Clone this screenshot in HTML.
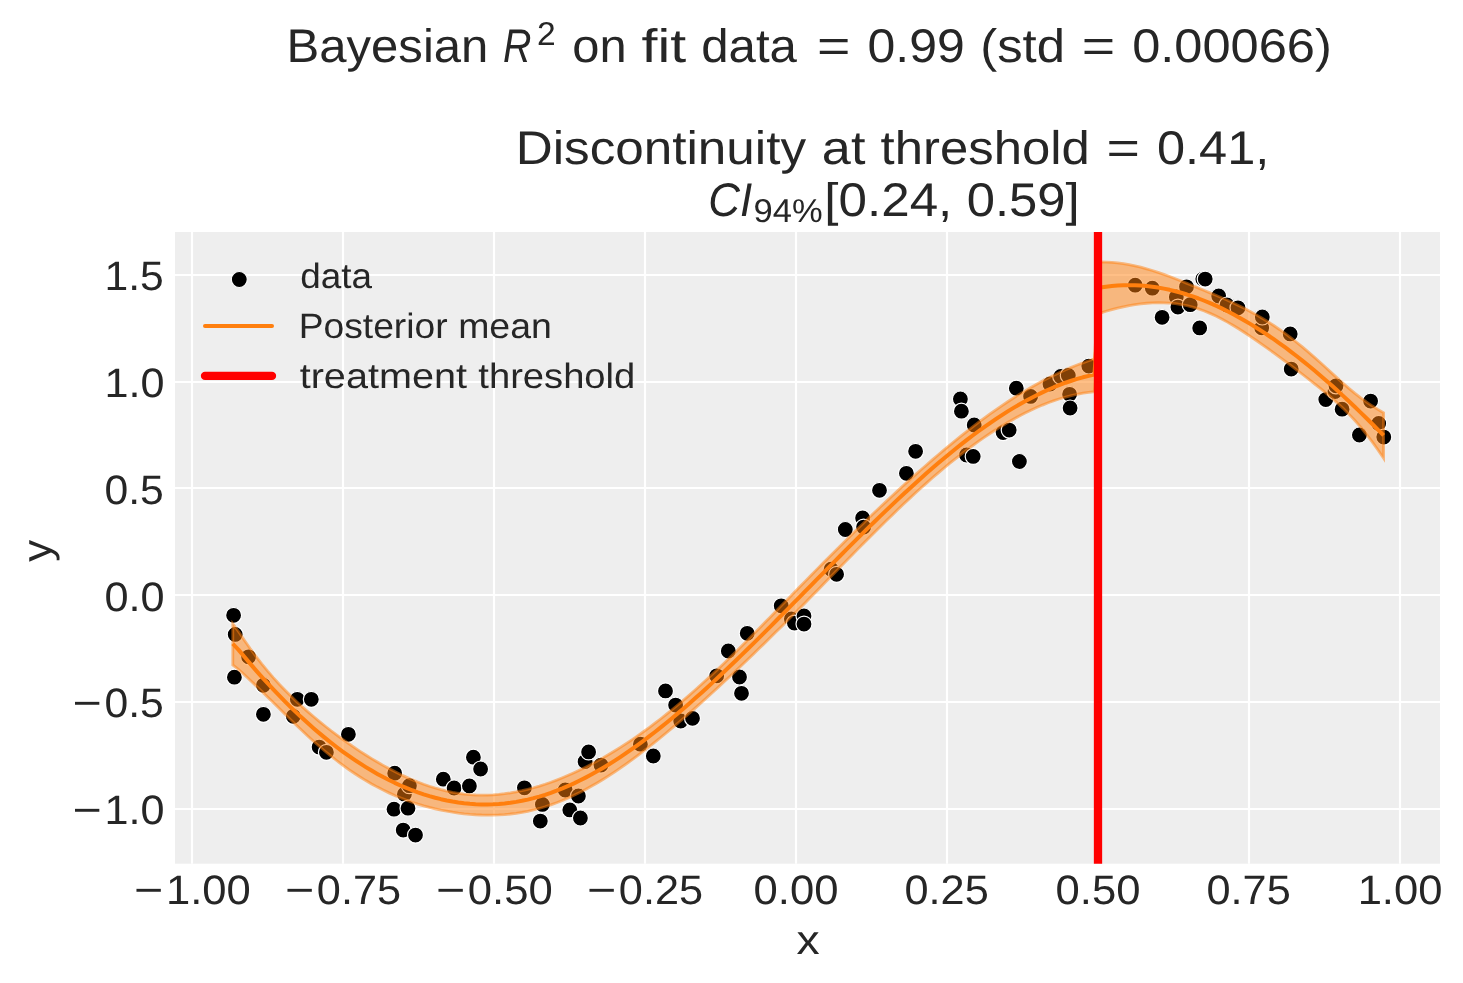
<!DOCTYPE html>
<html><head><meta charset="utf-8"><style>
html,body{margin:0;padding:0;background:#fff;overflow:hidden}
svg{display:block}
text{text-rendering:geometricPrecision}
svg{will-change:transform}
</style></head><body>
<svg width="1463" height="983" viewBox="0 0 1463 983">
<rect width="1463" height="983" fill="#fff"/>
<rect x="175" y="232" width="1265" height="631.7" fill="#eeeeee"/>
<g stroke="#fff" stroke-width="2.2">
<line x1="192.0" y1="232" x2="192.0" y2="863.7"/>
<line x1="343.0" y1="232" x2="343.0" y2="863.7"/>
<line x1="494.0" y1="232" x2="494.0" y2="863.7"/>
<line x1="645.0" y1="232" x2="645.0" y2="863.7"/>
<line x1="796.0" y1="232" x2="796.0" y2="863.7"/>
<line x1="947.0" y1="232" x2="947.0" y2="863.7"/>
<line x1="1098.0" y1="232" x2="1098.0" y2="863.7"/>
<line x1="1249.0" y1="232" x2="1249.0" y2="863.7"/>
<line x1="1400.0" y1="232" x2="1400.0" y2="863.7"/>
<line x1="175" y1="809.00" x2="1440" y2="809.00"/>
<line x1="175" y1="702.00" x2="1440" y2="702.00"/>
<line x1="175" y1="595.00" x2="1440" y2="595.00"/>
<line x1="175" y1="488.00" x2="1440" y2="488.00"/>
<line x1="175" y1="382.00" x2="1440" y2="382.00"/>
<line x1="175" y1="275.00" x2="1440" y2="275.00"/>
</g>
<g fill="#000" stroke="#fff" stroke-width="1.2">
<circle cx="233.6" cy="615.3" r="8"/>
<circle cx="234.4" cy="677.2" r="8"/>
<circle cx="235.2" cy="634.4" r="8"/>
<circle cx="248.6" cy="656.8" r="8"/>
<circle cx="263.4" cy="685.3" r="8"/>
<circle cx="263.4" cy="714.3" r="8"/>
<circle cx="293.3" cy="716.3" r="8"/>
<circle cx="297.3" cy="699.3" r="8"/>
<circle cx="311.3" cy="699.3" r="8"/>
<circle cx="319.1" cy="747.1" r="8"/>
<circle cx="326.4" cy="752.3" r="8"/>
<circle cx="348.4" cy="734.3" r="8"/>
<circle cx="394.0" cy="809.2" r="8"/>
<circle cx="394.7" cy="773.2" r="8"/>
<circle cx="403.2" cy="830.1" r="8"/>
<circle cx="404.4" cy="794.2" r="8"/>
<circle cx="408.0" cy="808.2" r="8"/>
<circle cx="409.4" cy="785.7" r="8"/>
<circle cx="415.5" cy="835.1" r="8"/>
<circle cx="443.3" cy="779.2" r="8"/>
<circle cx="454.1" cy="788.0" r="8"/>
<circle cx="469.4" cy="785.9" r="8"/>
<circle cx="473.4" cy="757.2" r="8"/>
<circle cx="480.6" cy="769.0" r="8"/>
<circle cx="524.4" cy="787.8" r="8"/>
<circle cx="540.3" cy="821.1" r="8"/>
<circle cx="542.4" cy="804.4" r="8"/>
<circle cx="565.2" cy="790.0" r="8"/>
<circle cx="569.8" cy="809.9" r="8"/>
<circle cx="578.4" cy="796.0" r="8"/>
<circle cx="580.4" cy="818.0" r="8"/>
<circle cx="585.1" cy="761.5" r="8"/>
<circle cx="588.6" cy="751.9" r="8"/>
<circle cx="601.0" cy="765.1" r="8"/>
<circle cx="640.4" cy="744.2" r="8"/>
<circle cx="653.3" cy="756.0" r="8"/>
<circle cx="665.5" cy="690.9" r="8"/>
<circle cx="675.6" cy="705.1" r="8"/>
<circle cx="680.7" cy="721.0" r="8"/>
<circle cx="692.5" cy="718.3" r="8"/>
<circle cx="716.7" cy="675.8" r="8"/>
<circle cx="728.3" cy="651.0" r="8"/>
<circle cx="739.5" cy="677.0" r="8"/>
<circle cx="741.5" cy="693.3" r="8"/>
<circle cx="747.2" cy="633.3" r="8"/>
<circle cx="781.2" cy="605.8" r="8"/>
<circle cx="791.4" cy="619.0" r="8"/>
<circle cx="794.4" cy="623.1" r="8"/>
<circle cx="804.0" cy="616.0" r="8"/>
<circle cx="804.0" cy="624.1" r="8"/>
<circle cx="831.1" cy="569.2" r="8"/>
<circle cx="836.6" cy="574.3" r="8"/>
<circle cx="845.3" cy="529.5" r="8"/>
<circle cx="862.6" cy="517.9" r="8"/>
<circle cx="863.6" cy="527.1" r="8"/>
<circle cx="879.5" cy="490.3" r="8"/>
<circle cx="906.4" cy="473.3" r="8"/>
<circle cx="915.6" cy="451.3" r="8"/>
<circle cx="960.4" cy="399.0" r="8"/>
<circle cx="961.4" cy="411.2" r="8"/>
<circle cx="966.5" cy="455.0" r="8"/>
<circle cx="973.2" cy="456.4" r="8"/>
<circle cx="974.2" cy="425.0" r="8"/>
<circle cx="1003.1" cy="432.6" r="8"/>
<circle cx="1009.2" cy="430.1" r="8"/>
<circle cx="1016.3" cy="388.2" r="8"/>
<circle cx="1019.4" cy="461.5" r="8"/>
<circle cx="1030.6" cy="396.4" r="8"/>
<circle cx="1050.0" cy="384.0" r="8"/>
<circle cx="1060.7" cy="376.5" r="8"/>
<circle cx="1068.3" cy="375.5" r="8"/>
<circle cx="1069.6" cy="394.3" r="8"/>
<circle cx="1070.1" cy="408.0" r="8"/>
<circle cx="1088.8" cy="366.1" r="8"/>
<circle cx="1135.2" cy="285.2" r="8"/>
<circle cx="1152.3" cy="288.2" r="8"/>
<circle cx="1162.1" cy="317.3" r="8"/>
<circle cx="1176.3" cy="297.0" r="8"/>
<circle cx="1177.9" cy="307.1" r="8"/>
<circle cx="1186.5" cy="286.8" r="8"/>
<circle cx="1190.2" cy="304.7" r="8"/>
<circle cx="1199.7" cy="327.9" r="8"/>
<circle cx="1202.8" cy="279.1" r="8"/>
<circle cx="1205.2" cy="279.1" r="8"/>
<circle cx="1218.7" cy="296.0" r="8"/>
<circle cx="1227.0" cy="305.0" r="8"/>
<circle cx="1238.0" cy="307.8" r="8"/>
<circle cx="1261.7" cy="327.8" r="8"/>
<circle cx="1262.3" cy="317.0" r="8"/>
<circle cx="1290.2" cy="333.9" r="8"/>
<circle cx="1291.2" cy="369.1" r="8"/>
<circle cx="1325.8" cy="399.6" r="8"/>
<circle cx="1335.0" cy="391.5" r="8"/>
<circle cx="1336.0" cy="385.8" r="8"/>
<circle cx="1342.1" cy="409.2" r="8"/>
<circle cx="1359.4" cy="435.0" r="8"/>
<circle cx="1370.6" cy="401.1" r="8"/>
<circle cx="1378.7" cy="423.4" r="8"/>
<circle cx="1383.8" cy="437.1" r="8"/>
</g>
<path d="M232.80,643.75 L238.58,649.88 L244.37,656.84 L250.15,663.66 L255.93,670.32 L261.71,676.83 L267.50,683.19 L273.28,689.39 L279.06,695.44 L284.85,701.33 L290.63,707.06 L296.41,712.64 L302.19,718.06 L307.98,723.32 L313.76,728.43 L319.54,733.37 L325.33,738.15 L331.11,742.78 L336.89,747.24 L342.68,751.54 L348.46,755.67 L354.24,759.65 L360.02,763.45 L365.81,767.10 L371.59,770.58 L377.37,773.89 L383.16,777.04 L388.94,780.01 L394.72,782.82 L400.50,785.47 L406.29,787.94 L412.07,790.24 L417.85,792.37 L423.64,794.33 L429.42,796.12 L435.20,797.74 L440.98,799.18 L446.77,800.45 L452.55,801.54 L458.33,802.46 L464.12,803.21 L469.90,803.77 L475.68,804.16 L481.47,804.38 L487.25,804.41 L493.03,804.26 L498.81,803.94 L504.60,803.43 L510.38,802.75 L516.16,801.88 L521.95,800.83 L527.73,799.59 L533.51,798.18 L539.29,796.57 L545.08,794.79 L550.86,792.84 L556.64,790.71 L562.43,788.42 L568.21,785.96 L573.99,783.34 L579.77,780.56 L585.56,777.63 L591.34,774.55 L597.12,771.33 L602.91,767.96 L608.69,764.46 L614.47,760.83 L620.26,757.06 L626.04,753.17 L631.82,749.16 L637.60,745.03 L643.39,740.79 L649.17,736.43 L654.95,731.97 L660.74,727.41 L666.52,722.75 L672.30,717.99 L678.08,713.14 L683.87,708.20 L689.65,703.18 L695.43,698.09 L701.22,692.91 L707.00,687.66 L712.78,682.35 L718.56,676.97 L724.35,671.53 L730.13,666.04 L735.91,660.49 L741.70,654.89 L747.48,649.25 L753.26,643.57 L759.05,637.85 L764.83,632.09 L770.61,626.31 L776.39,620.50 L782.18,614.67 L787.96,608.82 L793.74,602.96 L799.53,597.08 L805.31,591.20 L811.09,585.32 L816.87,579.44 L822.66,573.56 L828.44,567.70 L834.22,561.84 L840.01,556.00 L845.79,550.19 L851.57,544.39 L857.35,538.63 L863.14,532.90 L868.92,527.20 L874.70,521.55 L880.49,515.93 L886.27,510.37 L892.05,504.86 L897.84,499.40 L903.62,494.00 L909.40,488.67 L915.18,483.40 L920.97,478.21 L926.75,473.08 L932.53,468.04 L938.32,463.08 L944.10,458.21 L949.88,453.43 L955.66,448.74 L961.45,444.15 L967.23,439.66 L973.01,435.28 L978.80,431.01 L984.58,426.85 L990.36,422.81 L996.14,418.89 L1001.93,415.09 L1007.71,411.43 L1013.49,407.90 L1019.28,404.50 L1025.06,401.25 L1030.84,398.14 L1036.63,395.18 L1042.41,392.37 L1048.19,389.72 L1053.97,387.23 L1059.76,384.90 L1065.54,382.74 L1071.32,380.75 L1077.11,378.94 L1082.89,377.31 L1088.67,375.86 L1094.45,374.60 L1100.24,287.56 L1106.02,286.67 L1111.80,285.99 L1117.59,285.50 L1123.37,285.22 L1129.15,285.13 L1134.93,285.24 L1140.72,285.54 L1146.50,286.03 L1152.28,286.70 L1158.07,287.56 L1163.85,288.60 L1169.63,289.82 L1175.42,291.22 L1181.20,292.79 L1186.98,294.53 L1192.76,296.43 L1198.55,298.50 L1204.33,300.74 L1210.11,303.13 L1215.90,305.68 L1221.68,308.38 L1227.46,311.24 L1233.24,314.24 L1239.03,317.39 L1244.81,320.68 L1250.59,324.11 L1256.38,327.68 L1262.16,331.38 L1267.94,335.22 L1273.72,339.19 L1279.51,343.28 L1285.29,347.49 L1291.07,351.83 L1296.86,356.28 L1302.64,360.86 L1308.42,365.54 L1314.21,370.33 L1319.99,375.23 L1325.77,380.24 L1331.55,385.35 L1337.34,390.55 L1343.12,395.86 L1348.90,401.25 L1354.69,406.74 L1360.47,412.32 L1366.25,417.98 L1372.03,423.72 L1377.82,429.55 L1383.60,435.45" fill="none" stroke="#ff7f0e" stroke-width="4" stroke-linejoin="round" stroke-linecap="butt"/>
<path d="M232.80,623.93 L238.58,631.65 L244.37,640.25 L250.15,648.48 L255.93,656.32 L261.71,663.78 L267.50,670.87 L273.28,677.60 L279.06,683.99 L284.85,690.06 L290.63,695.86 L296.41,701.41 L302.19,706.73 L307.98,711.86 L313.76,716.81 L319.54,721.60 L325.33,726.25 L331.11,730.75 L336.89,735.12 L342.68,739.36 L348.46,743.47 L354.24,747.45 L360.02,751.31 L365.81,755.03 L371.59,758.62 L377.37,762.07 L383.16,765.39 L388.94,768.55 L394.72,771.57 L400.50,774.43 L406.29,777.14 L412.07,779.67 L417.85,782.04 L423.64,784.22 L429.42,786.22 L435.20,788.03 L440.98,789.64 L446.77,791.06 L452.55,792.26 L458.33,793.26 L464.12,794.04 L469.90,794.62 L475.68,794.98 L481.47,795.14 L487.25,795.08 L493.03,794.83 L498.81,794.37 L504.60,793.72 L510.38,792.89 L516.16,791.87 L521.95,790.68 L527.73,789.31 L533.51,787.77 L539.29,786.08 L545.08,784.22 L550.86,782.22 L556.64,780.07 L562.43,777.77 L568.21,775.33 L573.99,772.75 L579.77,770.04 L585.56,767.19 L591.34,764.21 L597.12,761.10 L602.91,757.87 L608.69,754.50 L614.47,751.02 L620.26,747.40 L626.04,743.67 L631.82,739.81 L637.60,735.84 L643.39,731.74 L649.17,727.53 L654.95,723.20 L660.74,718.75 L666.52,714.19 L672.30,709.51 L678.08,704.73 L683.87,699.84 L689.65,694.84 L695.43,689.75 L701.22,684.55 L707.00,679.27 L712.78,673.89 L718.56,668.44 L724.35,662.91 L730.13,657.30 L735.91,651.64 L741.70,645.92 L747.48,640.15 L753.26,634.33 L759.05,628.48 L764.83,622.60 L770.61,616.70 L776.39,610.78 L782.18,604.85 L787.96,598.91 L793.74,592.98 L799.53,587.05 L805.31,581.14 L811.09,575.24 L816.87,569.37 L822.66,563.52 L828.44,557.70 L834.22,551.90 L840.01,546.14 L845.79,540.41 L851.57,534.71 L857.35,529.05 L863.14,523.43 L868.92,517.85 L874.70,512.32 L880.49,506.83 L886.27,501.38 L892.05,495.98 L897.84,490.63 L903.62,485.33 L909.40,480.09 L915.18,474.89 L920.97,469.76 L926.75,464.69 L932.53,459.68 L938.32,454.73 L944.10,449.85 L949.88,445.05 L955.66,440.32 L961.45,435.67 L967.23,431.10 L973.01,426.62 L978.80,422.23 L984.58,417.93 L990.36,413.73 L996.14,409.64 L1001.93,405.66 L1007.71,401.78 L1013.49,398.02 L1019.28,394.38 L1025.06,390.86 L1030.84,387.47 L1036.63,384.20 L1042.41,381.06 L1048.19,378.05 L1053.97,375.17 L1059.76,372.43 L1065.54,369.83 L1071.32,367.36 L1077.11,365.03 L1082.89,362.83 L1088.67,360.78 L1094.45,358.86 L1100.24,262.03 L1106.02,262.08 L1111.80,262.37 L1117.59,262.90 L1123.37,263.66 L1129.15,264.65 L1134.93,265.84 L1140.72,267.22 L1146.50,268.79 L1152.28,270.52 L1158.07,272.40 L1163.85,274.41 L1169.63,276.54 L1175.42,278.75 L1181.20,281.03 L1186.98,283.36 L1192.76,285.72 L1198.55,288.09 L1204.33,290.48 L1210.11,292.88 L1215.90,295.31 L1221.68,297.79 L1227.46,300.33 L1233.24,302.97 L1239.03,305.72 L1244.81,308.61 L1250.59,311.65 L1256.38,314.85 L1262.16,318.22 L1267.94,321.78 L1273.72,325.53 L1279.51,329.48 L1285.29,333.62 L1291.07,337.95 L1296.86,342.48 L1302.64,347.20 L1308.42,352.08 L1314.21,357.12 L1319.99,362.29 L1325.77,367.55 L1331.55,372.86 L1337.34,378.14 L1343.12,383.34 L1348.90,388.37 L1354.69,393.17 L1360.47,397.69 L1366.25,401.91 L1372.03,405.81 L1377.82,409.41 L1383.60,412.72 L1383.60,458.17 L1377.82,449.68 L1372.03,441.63 L1366.25,434.05 L1360.47,426.94 L1354.69,420.31 L1348.90,414.14 L1343.12,408.37 L1337.34,402.96 L1331.55,397.84 L1325.77,392.93 L1319.99,388.18 L1314.21,383.54 L1308.42,379.00 L1302.64,374.51 L1296.86,370.09 L1291.07,365.71 L1285.29,361.37 L1279.51,357.08 L1273.72,352.84 L1267.94,348.66 L1262.16,344.55 L1256.38,340.51 L1250.59,336.58 L1244.81,332.75 L1239.03,329.05 L1233.24,325.51 L1227.46,322.14 L1221.68,318.98 L1215.90,316.05 L1210.11,313.38 L1204.33,310.99 L1198.55,308.91 L1192.76,307.14 L1186.98,305.69 L1181.20,304.54 L1175.42,303.68 L1169.63,303.11 L1163.85,302.79 L1158.07,302.72 L1152.28,302.88 L1146.50,303.26 L1140.72,303.85 L1134.93,304.64 L1129.15,305.61 L1123.37,306.77 L1117.59,308.10 L1111.80,309.60 L1106.02,311.26 L1100.24,313.09 L1094.45,391.73 L1088.67,392.34 L1082.89,393.18 L1077.11,394.25 L1071.32,395.54 L1065.54,397.05 L1059.76,398.76 L1053.97,400.68 L1048.19,402.78 L1042.41,405.08 L1036.63,407.56 L1030.84,410.21 L1025.06,413.03 L1019.28,416.02 L1013.49,419.17 L1007.71,422.47 L1001.93,425.93 L996.14,429.53 L990.36,433.28 L984.58,437.16 L978.80,441.19 L973.01,445.34 L967.23,449.62 L961.45,454.03 L955.66,458.56 L949.88,463.20 L944.10,467.96 L938.32,472.83 L932.53,477.81 L926.75,482.88 L920.97,488.05 L915.18,493.31 L909.40,498.65 L903.62,504.08 L897.84,509.57 L892.05,515.14 L886.27,520.76 L880.49,526.44 L874.70,532.18 L868.92,537.95 L863.14,543.76 L857.35,549.61 L851.57,555.48 L845.79,561.37 L840.01,567.27 L834.22,573.18 L828.44,579.10 L822.66,585.01 L816.87,590.91 L811.09,596.80 L805.31,602.67 L799.53,608.52 L793.74,614.34 L787.96,620.13 L782.18,625.89 L776.39,631.62 L770.61,637.32 L764.83,642.98 L759.05,648.61 L753.26,654.20 L747.48,659.75 L741.70,665.26 L735.91,670.74 L730.13,676.17 L724.35,681.56 L718.56,686.91 L712.78,692.21 L707.00,697.46 L701.22,702.67 L695.43,707.83 L689.65,712.93 L683.87,717.97 L678.08,722.95 L672.30,727.86 L666.52,732.70 L660.74,737.47 L654.95,742.15 L649.17,746.74 L643.39,751.23 L637.60,755.63 L631.82,759.91 L626.04,764.08 L620.26,768.12 L614.47,772.04 L608.69,775.82 L602.91,779.46 L597.12,782.95 L591.34,786.29 L585.56,789.47 L579.77,792.48 L573.99,795.32 L568.21,797.98 L562.43,800.46 L556.64,802.76 L550.86,804.86 L545.08,806.76 L539.29,808.47 L533.51,809.98 L527.73,811.28 L521.95,812.38 L516.16,813.28 L510.38,814.00 L504.60,814.54 L498.81,814.90 L493.03,815.10 L487.25,815.14 L481.47,815.02 L475.68,814.74 L469.90,814.33 L464.12,813.77 L458.33,813.07 L452.55,812.23 L446.77,811.24 L440.98,810.12 L435.20,808.84 L429.42,807.42 L423.64,805.84 L417.85,804.11 L412.07,802.21 L406.29,800.14 L400.50,797.90 L394.72,795.48 L388.94,792.87 L383.16,790.09 L377.37,787.11 L371.59,783.94 L365.81,780.57 L360.02,777.00 L354.24,773.24 L348.46,769.28 L342.68,765.11 L336.89,760.76 L331.11,756.20 L325.33,751.46 L319.54,746.54 L313.76,741.44 L307.98,736.19 L302.19,730.79 L296.41,725.27 L290.63,719.67 L284.85,713.99 L279.06,708.29 L273.28,702.58 L267.50,696.91 L261.71,691.28 L255.93,685.72 L250.15,680.24 L244.37,674.84 L238.58,669.51 L232.80,664.97 Z" fill="#ff7f0e" fill-opacity="0.5" stroke="#ff7f0e" stroke-opacity="0.5" stroke-width="2.8" stroke-linejoin="miter"/>
<line x1="1098" y1="232" x2="1098" y2="863.7" stroke="#ff0000" stroke-width="8.3"/>
<g font-family="Liberation Sans, sans-serif" fill="#262626">
<text x="134.05" y="904.00" font-size="41.20" textLength="29.27" lengthAdjust="spacingAndGlyphs">−</text>
<text x="165.95" y="904.00" font-size="41.20" textLength="84.78" lengthAdjust="spacingAndGlyphs">1.00</text>
<text x="285.05" y="904.00" font-size="41.20" textLength="29.27" lengthAdjust="spacingAndGlyphs">−</text>
<text x="316.87" y="904.00" font-size="41.20" textLength="84.15" lengthAdjust="spacingAndGlyphs">0.75</text>
<text x="436.05" y="904.00" font-size="41.20" textLength="29.27" lengthAdjust="spacingAndGlyphs">−</text>
<text x="467.85" y="904.00" font-size="41.20" textLength="84.87" lengthAdjust="spacingAndGlyphs">0.50</text>
<text x="587.05" y="904.00" font-size="41.20" textLength="29.27" lengthAdjust="spacingAndGlyphs">−</text>
<text x="618.87" y="904.00" font-size="41.20" textLength="84.15" lengthAdjust="spacingAndGlyphs">0.25</text>
<text x="753.55" y="904.00" font-size="41.20" textLength="84.87" lengthAdjust="spacingAndGlyphs">0.00</text>
<text x="904.57" y="904.00" font-size="41.20" textLength="84.15" lengthAdjust="spacingAndGlyphs">0.25</text>
<text x="1055.55" y="904.00" font-size="41.20" textLength="84.87" lengthAdjust="spacingAndGlyphs">0.50</text>
<text x="1206.57" y="904.00" font-size="41.20" textLength="84.15" lengthAdjust="spacingAndGlyphs">0.75</text>
<text x="1357.65" y="904.00" font-size="41.20" textLength="84.78" lengthAdjust="spacingAndGlyphs">1.00</text>
<text x="72.59" y="824.30" font-size="41.20" textLength="29.27" lengthAdjust="spacingAndGlyphs">−</text>
<text x="104.52" y="824.30" font-size="41.20" textLength="59.98" lengthAdjust="spacingAndGlyphs">1.0</text>
<text x="72.59" y="717.48" font-size="41.20" textLength="29.27" lengthAdjust="spacingAndGlyphs">−</text>
<text x="104.43" y="717.48" font-size="41.20" textLength="59.36" lengthAdjust="spacingAndGlyphs">0.5</text>
<text x="104.41" y="610.66" font-size="41.20" textLength="60.09" lengthAdjust="spacingAndGlyphs">0.0</text>
<text x="104.43" y="503.84" font-size="41.20" textLength="59.36" lengthAdjust="spacingAndGlyphs">0.5</text>
<text x="104.52" y="397.02" font-size="41.20" textLength="59.98" lengthAdjust="spacingAndGlyphs">1.0</text>
<text x="104.56" y="290.20" font-size="41.20" textLength="59.22" lengthAdjust="spacingAndGlyphs">1.5</text>
</g>
<g font-family="Liberation Sans, sans-serif" fill="#262626" font-size="41.2">
<text x="796.48" y="953.90" font-size="41.20" textLength="23.12" lengthAdjust="spacingAndGlyphs">x</text>
<g transform="translate(50.9,0) rotate(-90)"><text x="-561.71" y="0.00" font-size="41.20" textLength="21.89" lengthAdjust="spacingAndGlyphs">y</text></g>
</g>
<g font-family="Liberation Sans, sans-serif" fill="#262626">
<text x="286.47" y="61.70" font-size="47.10" textLength="201.91" lengthAdjust="spacingAndGlyphs">Bayesian</text>
<text x="503.09" y="61.80" font-size="47.10" textLength="28.42" lengthAdjust="spacingAndGlyphs" font-style="italic">R</text>
<text x="537.11" y="45.10" font-size="32.97" textLength="18.68" lengthAdjust="spacingAndGlyphs">2</text>
<text x="572.25" y="61.70" font-size="47.10" textLength="54.36" lengthAdjust="spacingAndGlyphs">on</text>
<text x="641.55" y="61.70" font-size="47.10" textLength="44.57" lengthAdjust="spacingAndGlyphs">fit</text>
<text x="701.29" y="61.70" font-size="47.10" textLength="95.70" lengthAdjust="spacingAndGlyphs">data</text>
<text x="817.06" y="61.70" font-size="47.10" textLength="33.45" lengthAdjust="spacingAndGlyphs">=</text>
<text x="867.50" y="61.70" font-size="47.10" textLength="97.23" lengthAdjust="spacingAndGlyphs">0.99</text>
<text x="980.29" y="61.70" font-size="47.10" textLength="84.71" lengthAdjust="spacingAndGlyphs">(std</text>
<text x="1081.81" y="61.70" font-size="47.10" textLength="33.45" lengthAdjust="spacingAndGlyphs">=</text>
<text x="1132.23" y="61.70" font-size="47.10" textLength="199.51" lengthAdjust="spacingAndGlyphs">0.00066)</text>
<text x="515.70" y="164.20" font-size="47.10" textLength="290.36" lengthAdjust="spacingAndGlyphs">Discontinuity</text>
<text x="821.87" y="164.20" font-size="47.10" textLength="43.53" lengthAdjust="spacingAndGlyphs">at</text>
<text x="880.63" y="164.20" font-size="47.10" textLength="209.13" lengthAdjust="spacingAndGlyphs">threshold</text>
<text x="1106.57" y="164.20" font-size="47.10" textLength="33.45" lengthAdjust="spacingAndGlyphs">=</text>
<text x="1156.98" y="164.20" font-size="47.10" textLength="112.34" lengthAdjust="spacingAndGlyphs">0.41,</text>
<text x="708.18" y="216.00" font-size="47.10" textLength="43.92" lengthAdjust="spacingAndGlyphs" font-style="italic">CI</text>
<text x="753.58" y="222.40" font-size="32.97" textLength="69.05" lengthAdjust="spacingAndGlyphs">94%</text>
<text x="824.35" y="216.00" font-size="47.10" textLength="127.96" lengthAdjust="spacingAndGlyphs">[0.24,</text>
<text x="966.69" y="216.00" font-size="47.10" textLength="112.87" lengthAdjust="spacingAndGlyphs">0.59]</text>
</g>
<circle cx="239.3" cy="279.5" r="8" fill="#000" stroke="#fff" stroke-width="1.2"/>
<line x1="205" y1="325.9" x2="272" y2="325.9" stroke="#ff7f0e" stroke-width="4" stroke-linecap="round"/>
<line x1="205" y1="375.9" x2="272" y2="375.9" stroke="#ff0000" stroke-width="8.3" stroke-linecap="round"/>
<g font-family="Liberation Sans, sans-serif" fill="#262626">
<text x="300.15" y="288.00" font-size="35.20" textLength="71.75" lengthAdjust="spacingAndGlyphs">data</text>
<text x="298.65" y="337.80" font-size="35.20" textLength="148.98" lengthAdjust="spacingAndGlyphs">Posterior</text>
<text x="458.15" y="337.80" font-size="35.20" textLength="93.63" lengthAdjust="spacingAndGlyphs">mean</text>
<text x="299.70" y="388.00" font-size="35.20" textLength="167.23" lengthAdjust="spacingAndGlyphs">treatment</text>
<text x="478.36" y="388.00" font-size="35.20" textLength="156.90" lengthAdjust="spacingAndGlyphs">threshold</text>
</g>
</svg>
</body></html>
